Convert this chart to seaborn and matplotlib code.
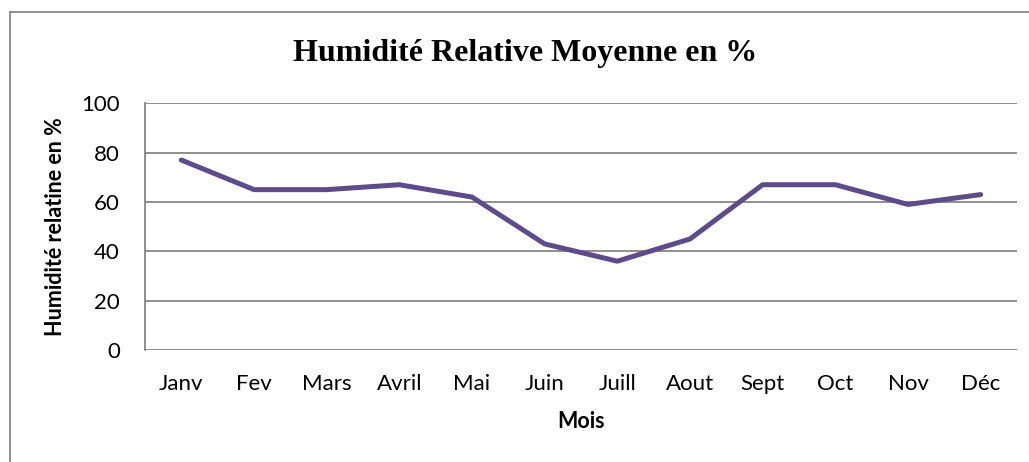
import matplotlib
matplotlib.use("Agg")
import matplotlib.pyplot as plt
import matplotlib.patches as patches
import pandas as pd
import seaborn as sns

# Monthly data
months = ["Janv", "Fev", "Mars", "Avril", "Mai", "Juin",
          "Juill", "Aout", "Sept", "Oct", "Nov", "Déc"]
humidity = [77, 65, 65, 67, 62, 43, 36, 45, 67, 67, 59, 63]
y_ticks = [0, 20, 40, 60, 80, 100]

df = pd.DataFrame({"Mois": months, "Humidite": humidity})

sns.set_style("white")
plt.rcParams["font.family"] = ["Lato", "DejaVu Sans"]

fig = plt.figure(figsize=(10.29, 4.62), dpi=100)
ax = fig.add_axes([145 / 1029, 1 - 350 / 462, 872 / 1029, (350 - 103.3) / 462])

x = list(range(len(months)))
sns.lineplot(x=x, y=df["Humidite"], ax=ax, color="#5F4B8B", linewidth=3.6)

ax.set_xlim(-0.5, len(months) - 0.5)
ax.set_ylim(0, 100)
ax.set_yticks(y_ticks)
ax.set_xticks(x)
ax.set_xticklabels(months)
ax.yaxis.grid(True, color="#868686", linewidth=1.3)
ax.set_axisbelow(True)

for side in ["top", "right", "bottom"]:
    ax.spines[side].set_visible(False)
ax.spines["left"].set_color("#868686")
ax.spines["left"].set_linewidth(1.3)
ax.tick_params(axis="y", length=6, width=1.3, color="#868686",
               labelsize=16, pad=12, labelcolor="black")
ax.tick_params(axis="x", length=0, labelsize=16, pad=17, labelcolor="black")
ax.set_xlabel("")
ax.set_ylabel("")

fig.text(525 / 1029, 1 - 53 / 462, "Humidité Relative Moyenne en %",
         family=["Liberation Serif"], fontweight="bold", fontsize=23,
         color="black", ha="center", va="center")
fig.text(56 / 1029, 1 - 227 / 462, "Humidité relatine en %",
         fontweight="bold", fontsize=15.5, rotation=90, color="black",
         ha="center", va="center")
fig.text(581 / 1029, 1 - 422 / 462, "Mois", color="black",
         fontweight="bold", fontsize=15.5, ha="center", va="center")

# chart area border (only top and left edges fall inside the image)
fig.patches.append(patches.Rectangle(
    (10 / 1029, -0.1), 1.2, 1.1 - 12 / 462,
    transform=fig.transFigure, fill=False, edgecolor="#868686",
    linewidth=1.3))

fig.savefig("out.png", dpi=100)
